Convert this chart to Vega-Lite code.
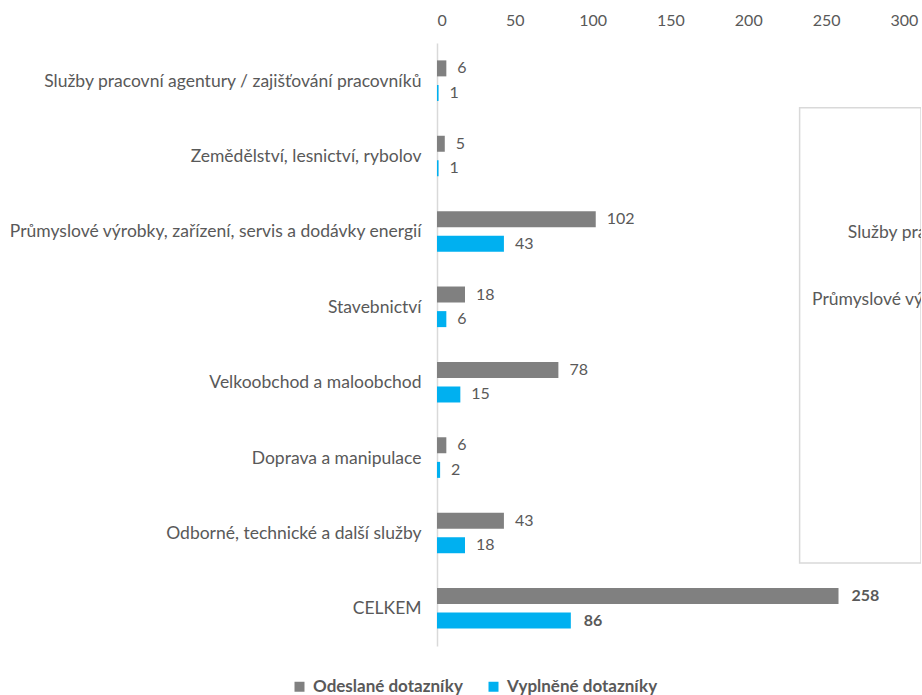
{
  "$schema": "https://vega.github.io/schema/vega-lite/v6.json",
  "autosize": "none",
  "width": 484,
  "height": 603,
  "padding": {"left": 437, "top": 43, "right": 1, "bottom": 49},
  "background": "white",
  "config": {
    "view": {"stroke": null},
    "font": "Lato",
    "text": {"font": "Lato", "fontSize": 16, "color": "#595959"}
  },
  "datasets": {
    "bars": [
      {"cat": "Služby pracovní agentury / zajišťování pracovníků", "series": "Odeslané dotazníky", "value": 6},
      {"cat": "Služby pracovní agentury / zajišťování pracovníků", "series": "Vyplněné dotazníky", "value": 1},
      {"cat": "Zemědělství, lesnictví, rybolov", "series": "Odeslané dotazníky", "value": 5},
      {"cat": "Zemědělství, lesnictví, rybolov", "series": "Vyplněné dotazníky", "value": 1},
      {"cat": "Průmyslové výrobky, zařízení, servis a dodávky energií", "series": "Odeslané dotazníky", "value": 102},
      {"cat": "Průmyslové výrobky, zařízení, servis a dodávky energií", "series": "Vyplněné dotazníky", "value": 43},
      {"cat": "Stavebnictví", "series": "Odeslané dotazníky", "value": 18},
      {"cat": "Stavebnictví", "series": "Vyplněné dotazníky", "value": 6},
      {"cat": "Velkoobchod a maloobchod", "series": "Odeslané dotazníky", "value": 78},
      {"cat": "Velkoobchod a maloobchod", "series": "Vyplněné dotazníky", "value": 15},
      {"cat": "Doprava a manipulace", "series": "Odeslané dotazníky", "value": 6},
      {"cat": "Doprava a manipulace", "series": "Vyplněné dotazníky", "value": 2},
      {"cat": "Odborné, technické a další služby", "series": "Odeslané dotazníky", "value": 43},
      {"cat": "Odborné, technické a další služby", "series": "Vyplněné dotazníky", "value": 18},
      {"cat": "CELKEM", "series": "Odeslané dotazníky", "value": 258},
      {"cat": "CELKEM", "series": "Vyplněné dotazníky", "value": 86}
    ],
    "overlayText": [
      {"label": "Služby pracovní agentury / zajišťování pracovníků", "start": 264, "row": 2.52},
      {"label": "Průmyslové výrobky, zařízení, servis a dodávky energií", "start": 241, "row": 3.41}
    ],
    "overlayBox": [
      {"left": 233, "right": 311, "top": 0.86, "bottom": 6.9}
    ]
  },
  "layer": [
    {
      "data": {"name": "bars"},
      "layer": [
        {
          "mark": {"type": "bar"},
          "encoding": {
            "y": {
              "field": "cat", "type": "nominal", "sort": null,
              "scale": {"paddingInner": 0.2, "paddingOuter": 0.1},
              "axis": {
                "title": null, "domain": true, "domainColor": "#d9d9d9", "domainWidth": 1.5,
                "ticks": false, "labelPadding": 16, "labelFontSize": 17.5, "labelColor": "#595959",
                "labelLimit": 0, "labelFont": "Lato", "labelOffset": 1
              }
            },
            "yOffset": {
              "field": "series", "type": "nominal",
              "scale": {"paddingInner": 0.35, "paddingOuter": 0.4}
            },
            "x": {
              "field": "value", "type": "quantitative",
              "scale": {"domain": [0, 311], "nice": false},
              "axis": {
                "orient": "top", "title": null, "domain": false, "ticks": false, "grid": false,
                "values": [0, 50, 100, 150, 200, 250, 300], "labelPadding": 15,
                "labelFontSize": 16, "labelColor": "#595959", "labelFont": "Lato"
              }
            },
            "color": {
              "field": "series", "type": "nominal",
              "scale": {"domain": ["Odeslané dotazníky", "Vyplněné dotazníky"], "range": ["#808080", "#00b0f0"]},
              "legend": {
                "title": null, "orient": "none", "direction": "horizontal",
                "legendX": -146, "legendY": 635,
                "symbolType": "square", "symbolSize": 100, "symbolStrokeWidth": 0,
                "labelFontSize": 17, "labelFontWeight": "bold", "labelColor": "#595959",
                "labelFont": "Lato", "columnPadding": 22, "labelOffset": 5, "labelLimit": 0
              }
            }
          }
        },
        {
          "transform": [{"filter": "datum.cat !== 'CELKEM'"}],
          "mark": {"type": "text", "align": "left", "baseline": "middle", "dx": 11},
          "encoding": {
            "y": {"field": "cat", "type": "nominal", "sort": null},
            "yOffset": {"field": "series", "type": "nominal"},
            "x": {"field": "value", "type": "quantitative"},
            "text": {"field": "value", "type": "quantitative"}
          }
        },
        {
          "transform": [{"filter": "datum.cat === 'CELKEM'"}],
          "mark": {"type": "text", "align": "left", "baseline": "middle", "dx": 13, "fontWeight": "bold"},
          "encoding": {
            "y": {"field": "cat", "type": "nominal", "sort": null},
            "yOffset": {"field": "series", "type": "nominal"},
            "x": {"field": "value", "type": "quantitative"},
            "text": {"field": "value", "type": "quantitative"}
          }
        }
      ]
    },
    {
      "data": {"name": "overlayBox"},
      "mark": {"type": "rect", "fill": "white", "stroke": "#d9d9d9", "strokeWidth": 1.5, "clip": true},
      "encoding": {
        "x": {"field": "left", "type": "quantitative"},
        "x2": {"field": "right"},
        "y": {"field": "top", "type": "quantitative", "scale": {"domain": [0, 8], "reverse": true, "nice": false}, "axis": null},
        "y2": {"field": "bottom"}
      }
    },
    {
      "data": {"name": "overlayText"},
      "mark": {"type": "text", "align": "left", "baseline": "middle", "clip": true, "fontSize": 17.5},
      "encoding": {
        "x": {"field": "start", "type": "quantitative"},
        "y": {"field": "row", "type": "quantitative", "scale": {"domain": [0, 8], "reverse": true, "nice": false}, "axis": null},
        "text": {"field": "label"}
      }
    }
  ],
  "resolve": {"scale": {"y": "independent"}}
}
